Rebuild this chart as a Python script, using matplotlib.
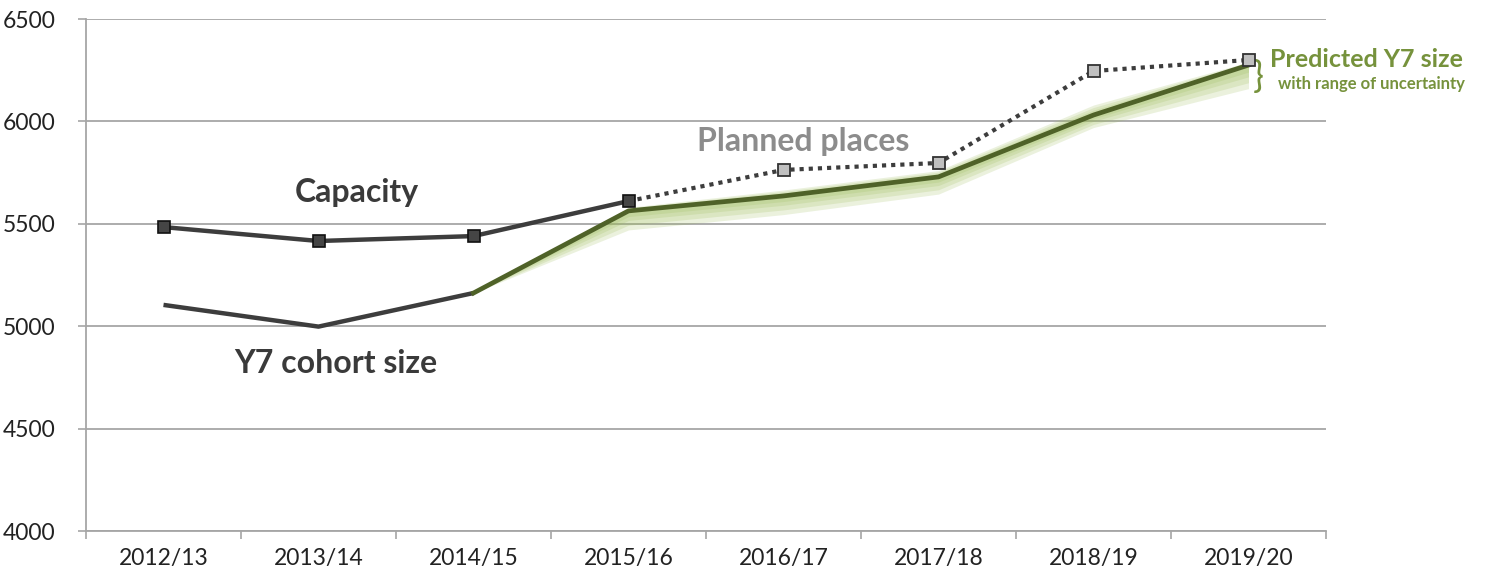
import numpy as np
import matplotlib.pyplot as plt
from matplotlib.ticker import FixedLocator

# data
years = ['2012/13', '2013/14', '2014/15', '2015/16', '2016/17', '2017/18', '2018/19', '2019/20']
capacity = [5484, 5416, 5440, 5611]
planned = [5611, 5763, 5797, 6246, 6300]
cohort = [5104, 4998, 5162]
predicted = [5162, 5563, 5636, 5729, 6031, 6275]
pred_high = [5162, 5580, 5665, 5760, 6080, 6290]
pred_low = [5162, 5470, 5545, 5645, 5970, 6160]

plt.rcParams['font.family'] = ['Lato', 'DejaVu Sans']

fig = plt.figure(figsize=(14.98, 5.81), dpi=100)
ax = fig.add_axes([86/1498, 50/581, 1240/1498, 512/581])

x = np.arange(len(years))
xc = x[:len(capacity)]
xp = x[3:3 + len(planned)]
xh = x[:len(cohort)]
xf = x[2:2 + len(predicted)]

dark = '#3d3d3d'
green = '#4f6228'
label_green = '#76923c'

# uncertainty band, layered shades
pred = np.array(predicted)
hi = np.array(pred_high)
lo = np.array(pred_low)
for f in [1.0, 0.75, 0.5, 0.3]:
    ax.fill_between(xf, pred - f * (pred - lo), pred + f * (hi - pred),
                    color='#9bbb59', alpha=0.2, lw=0, zorder=2)

ax.plot(xh, cohort, color=dark, lw=3.2, solid_capstyle='butt', zorder=3)
ax.plot(xf, predicted, color=green, lw=3.4, zorder=3)

ax.plot(xp, planned, color=dark, lw=3, ls=(0, (1, 1.2)), zorder=4)
ax.plot(xp[1:], planned[1:], ls='none', marker='s', ms=9, mfc='#c0c0c0',
        mec='#333333', mew=1.3, zorder=5)
ax.plot(xc, capacity, color=dark, lw=3.2, marker='s', ms=9, mfc='#454545',
        mec='#111111', mew=1.2, zorder=5)

ax.set_xlim(-0.5, len(years) - 0.5)
ax.set_ylim(4000, 6500)
ax.set_yticks(np.arange(4000, 6501, 500))
ax.set_xticks(x)
ax.set_xticklabels(years)
ax.xaxis.set_minor_locator(FixedLocator(np.arange(-0.5, len(years), 1)))
ax.tick_params(axis='x', which='major', length=0, pad=12, labelsize=16.5, labelcolor='#222222')
ax.tick_params(axis='x', which='minor', length=6, width=1.2, color='#a6a6a6', direction='out')
ax.tick_params(axis='y', length=6, width=1.2, color='#a6a6a6', pad=16, labelsize=16.5, labelcolor='#222222')

ax.grid(axis='y', color='#a6a6a6', lw=1.3)
ax.set_axisbelow(True)
for s in ['top', 'right']:
    ax.spines[s].set_visible(False)
for s in ['left', 'bottom']:
    ax.spines[s].set_color('#a6a6a6')
    ax.spines[s].set_linewidth(1.3)

ax.text(1.25, 5655, 'Capacity', fontsize=23, fontweight='bold', color='#3a3a3a', ha='center', va='center')
ax.text(1.11, 4820, 'Y7 cohort size', fontsize=23, fontweight='bold', color='#3a3a3a', ha='center', va='center')
ax.text(4.13, 5900, 'Planned places', fontsize=23, fontweight='bold', color='#8c8c8c', ha='center', va='center')
ax.text(7.06, 6215, '}', fontsize=26, color=label_green, ha='center', va='center', clip_on=False)
ax.text(7.14, 6300, 'Predicted Y7 size', fontsize=18, fontweight='bold', color=label_green, ha='left', va='center', clip_on=False)
ax.text(7.19, 6183, 'with range of uncertainty', fontsize=12, fontweight='bold', color=label_green, ha='left', va='center', clip_on=False)

fig.savefig('out.png', dpi=100)
